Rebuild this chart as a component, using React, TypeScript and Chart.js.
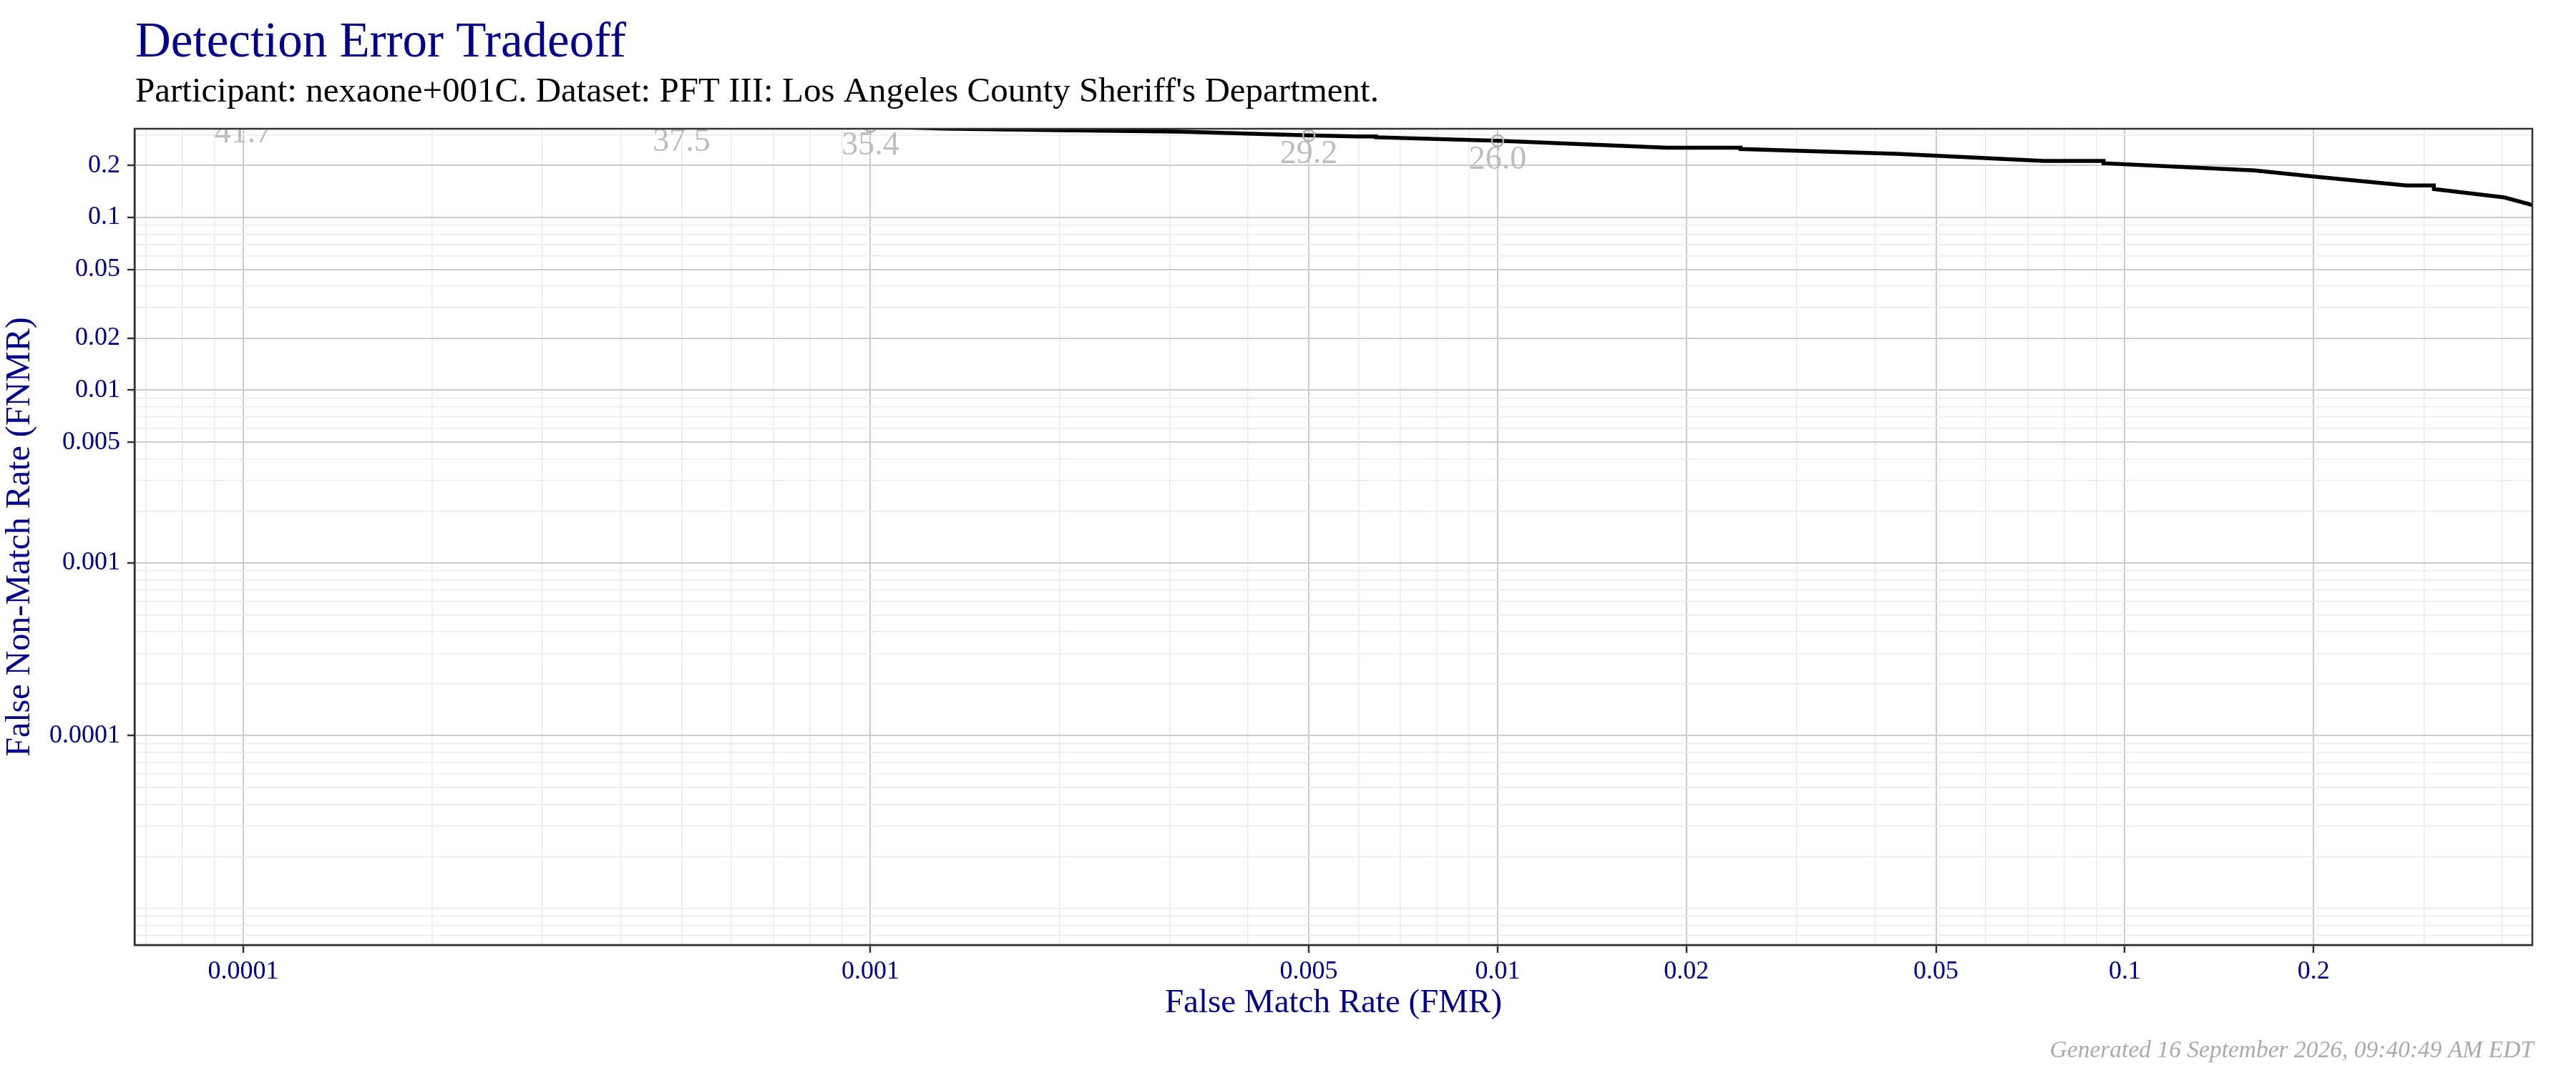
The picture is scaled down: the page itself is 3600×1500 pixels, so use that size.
import { useEffect, useRef } from "react";
import { Chart, registerables, ChartConfiguration } from "chart.js";

Chart.register(...registerables);

// DET curve (FMR on x, FNMR on y)
const fmr = [
  0.0001, 0.0005, 0.001, 0.0013, 0.002, 0.0031, 0.005, 0.006, 0.0064, 0.0064,
  0.01, 0.0116, 0.0186, 0.0244, 0.0244, 0.0432, 0.0744, 0.0925, 0.0925, 0.161,
  0.2, 0.281, 0.311, 0.311, 0.353, 0.403, 0.4465,
];
const fnmr = [
  0.395, 0.353, 0.337, 0.327, 0.32, 0.314, 0.2985, 0.2945, 0.2945, 0.291,
  0.278, 0.272, 0.253, 0.253, 0.249, 0.2336, 0.2124, 0.2124, 0.2058, 0.1871,
  0.1727, 0.1532, 0.1532, 0.1461, 0.1383, 0.1305, 0.1179,
];

// threshold markers
const thresholdFmr = [0.0001, 0.0005, 0.001, 0.005, 0.01];
const thresholdFnmr = [0.395, 0.353, 0.337, 0.2985, 0.278];
const thresholdLabels = ["41.7", "37.5", "35.4", "29.2", "26.0"];

// axis breaks and labels
const breaks = [0.0001, 0.001, 0.005, 0.01, 0.02, 0.05, 0.1, 0.2];
const breakLabels = ["0.0001", "0.001", "0.005", "0.01", "0.02", "0.05", "0.1", "0.2"];
const gridExponents = [-6, -5, -4, -3, -2, -1];
const gridMultipliers = [1, 2, 3, 4, 5, 6, 7, 8, 9];

const xMin = 6.71e-5;
const xMax = 0.4465;
const yMin = 6.15e-6;
const yMax = 0.326;

const SERIF = '"Liberation Serif", serif';
const BLUE = "#00008B";

const breakIndex = (v: number) => breaks.findIndex((b) => Math.abs(v - b) / b < 1e-6);

const gridTicks = (min: number, max: number) => {
  const out: { value: number }[] = [];
  gridExponents.forEach((e) =>
    gridMultipliers.forEach((m) => {
      const v = Number((m * Math.pow(10, e)).toPrecision(6));
      if (v >= min && v <= max) out.push({ value: v });
    })
  );
  return out;
};

const gridOpts = {
  color: (c: any) => (breakIndex(c.tick?.value) >= 0 ? "#cccccc" : "#ebebeb"),
  lineWidth: (c: any) => (breakIndex(c.tick?.value) >= 0 ? 2 : 1.5),
  tickColor: (c: any) => (breakIndex(c.tick?.value) >= 0 ? "#333333" : "rgba(0,0,0,0)"),
  tickWidth: 2.5,
};

const tickLabel = (value: any) => {
  const i = breakIndex(Number(value));
  return i >= 0 ? breakLabels[i] : "";
};

const decor = {
  id: "decor",
  afterDatasetsDraw(chart: Chart) {
    const { ctx, chartArea: a } = chart;
    const meta = chart.getDatasetMeta(1);
    ctx.save();
    ctx.beginPath();
    ctx.rect(a.left, a.top, a.right - a.left, a.bottom - a.top);
    ctx.clip();
    ctx.fillStyle = "#bdbdbd";
    ctx.font = `46px ${SERIF}`;
    ctx.textAlign = "center";
    ctx.textBaseline = "alphabetic";
    meta.data.forEach((pt: any, i: number) => {
      ctx.fillText(thresholdLabels[i], pt.x, pt.y + 39);
    });
    ctx.restore();

    // panel border
    ctx.save();
    ctx.strokeStyle = "#333333";
    ctx.lineWidth = 2.5;
    ctx.strokeRect(a.left, a.top, a.right - a.left, a.bottom - a.top);
    ctx.restore();
  },
  afterDraw(chart: Chart) {
    const { ctx } = chart;
    ctx.save();
    ctx.textBaseline = "alphabetic";
    ctx.textAlign = "left";
    ctx.fillStyle = BLUE;
    ctx.font = `69px ${SERIF}`;
    ctx.fillText("Detection Error Tradeoff", 189, 79);
    ctx.fillStyle = "#000000";
    ctx.font = `49px ${SERIF}`;
    ctx.fillText("Participant: nexaone+001C. Dataset: PFT III: Los Angeles County Sheriff's Department.", 189, 142);
    ctx.textAlign = "right";
    ctx.fillStyle = "#ababab";
    ctx.font = `italic 33.5px ${SERIF}`;
    ctx.fillText("Generated 16 September 2026, 09:40:49 AM EDT", 3541, 1478);
    ctx.restore();
  },
};

export default function App() {
  const canvasRef = useRef<HTMLCanvasElement>(null);

  useEffect(() => {
    document.body.style.margin = "0";
    if (!canvasRef.current) return;

    const config: ChartConfiguration<"line"> = {
      type: "line",
      data: {
        datasets: [
          {
            data: fmr.map((x, i) => ({ x, y: fnmr[i] })),
            borderColor: "#000000",
            borderWidth: 5.5,
            pointRadius: 0,
            fill: false,
            tension: 0,
            clip: 0,
            order: 1,
          },
          {
            data: thresholdFmr.map((x, i) => ({ x, y: thresholdFnmr[i] })),
            showLine: false,
            pointRadius: 8,
            pointBorderColor: "#b0b0b0",
            pointBorderWidth: 2.5,
            pointBackgroundColor: "rgba(0,0,0,0)",
            clip: 0,
            order: 0,
          },
        ],
      },
      options: {
        responsive: false,
        devicePixelRatio: 1,
        animation: false,
        layout: { padding: { top: 180, right: 61, bottom: 0, left: 0 } },
        plugins: {
          legend: { display: false },
          tooltip: { enabled: false },
        },
        scales: {
          x: {
            type: "logarithmic",
            min: xMin,
            max: xMax,
            afterBuildTicks: (s: any) => {
              s.ticks = gridTicks(xMin, xMax);
            },
            afterFit: (s: any) => {
              s.height = 179;
            },
            ticks: {
              autoSkip: false,
              maxRotation: 0,
              minRotation: 0,
              padding: 5,
              color: BLUE,
              font: { family: SERIF, size: 36 },
              callback: tickLabel,
            },
            grid: { ...gridOpts, tickLength: 11 },
            border: { color: "#333333", width: 2.5 },
            title: {
              display: true,
              text: "False Match Rate (FMR)",
              color: BLUE,
              font: { family: SERIF, size: 47 },
              padding: { top: 0, bottom: 69 },
            },
          },
          y: {
            type: "logarithmic",
            min: yMin,
            max: yMax,
            afterBuildTicks: (s: any) => {
              s.ticks = gridTicks(yMin, yMax);
            },
            afterFit: (s: any) => {
              s.width = 188;
            },
            ticks: {
              autoSkip: false,
              padding: 10,
              color: BLUE,
              font: { family: SERIF, size: 36 },
              callback: tickLabel,
            },
            grid: { ...gridOpts, tickLength: 10 },
            border: { color: "#333333", width: 2.5 },
            title: {
              display: true,
              text: "False Non-Match Rate (FNMR)",
              color: BLUE,
              font: { family: SERIF, size: 48 },
              padding: { top: 0, bottom: 0 },
            },
          },
        },
      },
      plugins: [decor],
    };

    const chart = new Chart(canvasRef.current, config);
    return () => {
      chart.destroy();
    };
  }, []);

  return (
    <div style={{ width: 3600, height: 1500 }}>
      <canvas ref={canvasRef} width={3600} height={1500} style={{ display: "block" }} />
    </div>
  );
}
